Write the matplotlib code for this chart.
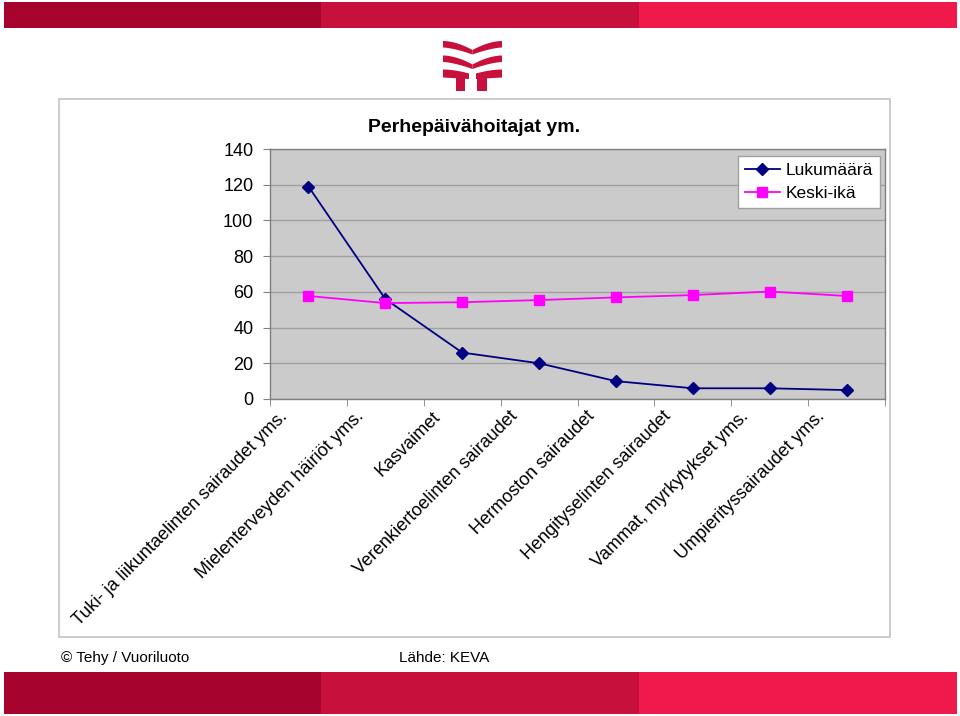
import numpy as np
import matplotlib
matplotlib.use("Agg")
import matplotlib.pyplot as plt
from matplotlib.patches import Rectangle, Polygon
from matplotlib.transforms import Affine2D, ScaledTranslation

plt.rcParams['font.family'] = ['Liberation Sans', 'DejaVu Sans']

# ---- data ----
categories = [
    "Tuki- ja liikuntaelinten sairaudet yms.",
    "Mielenterveyden häiriöt yms.",
    "Kasvaimet",
    "Verenkiertoelinten sairaudet",
    "Hermoston sairaudet",
    "Hengityselinten sairaudet",
    "Vammat, myrkytykset yms.",
    "Umpierityssairaudet yms.",
]
lukumaara = [119, 56, 26, 20, 10, 6, 6, 5]
keski_ika = [57.7, 53.7, 54.2, 55.4, 56.9, 58.2, 60.2, 57.7]
series_names = ["Lukumäärä", "Keski-ikä"]
yticks = [0, 20, 40, 60, 80, 100, 120, 140]
title = "Perhepäivähoitajat ym."
footer_left = "© Tehy / Vuoriluoto"
footer_mid = "Lähde: KEVA"

W, H = 960, 716
fig = plt.figure(figsize=(W / 100, H / 100), dpi=100)
fig.patch.set_facecolor('white')

# pixel coordinate transform (origin top-left)
px = Affine2D().scale(1 / W, -1 / H).translate(0, 1) + fig.transFigure

# ---- banners ----
banner_cols = ['#A6042F', '#C8103C', '#EF1A4B']
edges = [4, 321, 639, 957]
for (y0, y1) in [(2, 28), (672, 714)]:
    for i, c in enumerate(banner_cols):
        fig.patches.append(Rectangle((edges[i], y0), edges[i + 1] - edges[i], y1 - y0,
                                     transform=px, facecolor=c, edgecolor='none', zorder=-2))

# ---- logo ----
logo_col = '#C8103C'
cx = 472.5
def wing(y0, side, thick=6.5, sag=9.0):
    t = np.linspace(0, 1, 24)
    xo = cx + side * (-29.5 + 29.5 * t)
    top = y0 + sag * t ** 1.8
    bot = y0 + thick + (sag - 2) * t ** 1.5
    xs = np.concatenate([xo, xo[::-1]])
    ys = np.concatenate([top, bot[::-1]])
    return np.column_stack([xs, ys])

for y0 in [41, 55.5]:
    for s in (-1, 1):
        fig.patches.append(Polygon(wing(y0, s), closed=True, transform=px,
                                   facecolor=logo_col, edgecolor='none', zorder=-2))
# bottom row with stems
for s in (-1, 1):
    t = np.linspace(0, 1, 24)
    xo = cx + s * (-29.5 + 26 * t)
    top = 69.5 + 4 * t ** 1.8
    bot = 77.5 + 1.5 * t
    pts = np.column_stack([np.concatenate([xo, xo[::-1]]),
                           np.concatenate([top, bot[::-1]])])
    fig.patches.append(Polygon(pts, closed=True, transform=px,
                               facecolor=logo_col, edgecolor='none', zorder=-2))
    xa, xb = (cx - 17, cx - 7.5) if s < 0 else (cx + 4.5, cx + 14)
    fig.patches.append(Rectangle((xa, 73), xb - xa, 18, transform=px,
                                 facecolor=logo_col, edgecolor='none', zorder=-2))

# ---- chart frame ----
fig.patches.append(Rectangle((59, 99), 890 - 59, 637 - 99, transform=px,
                             facecolor='white', edgecolor='#c4c4c4', lw=1.2, zorder=-1))

# ---- axes ----
ax = fig.add_axes([270 / W, 1 - 399 / H, 615 / W, 250 / H])
ax.set_facecolor('#cbcbcb')
x = np.arange(len(categories))
ax.plot(x, lukumaara, color='#000080', lw=1.3, marker='D', ms=6.5,
        mfc='#000080', mec='#000080', label=series_names[0], zorder=3)
ax.plot(x, keski_ika, color='#FF00FF', lw=1.3, marker='s', ms=6.5,
        mfc='#FF00FF', mec='#FF00FF', label=series_names[1], zorder=3)

ax.set_xlim(-0.5, len(categories) - 0.5)
ax.set_ylim(0, 140)
ax.set_yticks(yticks)
ax.set_yticklabels([str(v) for v in yticks], fontsize=13)
ax.yaxis.grid(True, color='#a0a0a0', lw=1)
ax.set_axisbelow(True)
ax.tick_params(axis='y', direction='out', length=5, pad=7, color='#808080')

ax.set_xticks(x)
ax.set_xticklabels(categories, fontsize=13, rotation=45, ha='right', va='center',
                   rotation_mode='anchor')
ax.set_xticks(np.arange(len(categories) + 1) - 0.5, minor=True)
ax.tick_params(axis='x', which='major', length=0, pad=0)
ax.tick_params(axis='x', which='minor', direction='out', length=5, color='#808080')
off = ScaledTranslation(-24 / 100, -15 / 100, fig.dpi_scale_trans)
for lab in ax.get_xticklabels():
    lab.set_transform(lab.get_transform() + off)

for sp in ax.spines.values():
    sp.set_color('#808080')
    sp.set_linewidth(1)

leg = ax.legend(loc='upper right', bbox_to_anchor=(880 / W, 1 - 156 / H),
                bbox_transform=fig.transFigure, borderaxespad=0, fontsize=12.5,
                fancybox=False, framealpha=1, edgecolor='#a0a0a0',
                handlelength=2.0, handletextpad=0.35, borderpad=0.4, labelspacing=0.45)
leg.get_frame().set_linewidth(1)

fig.text(474 / W, 1 - 128 / H, title, ha='center', va='center',
         fontsize=14, fontweight='bold')

fig.text(61 / W, 1 - 658 / H, footer_left, ha='left', va='center', fontsize=11)
fig.text(399 / W, 1 - 658 / H, footer_mid, ha='left', va='center', fontsize=11)

fig.savefig('out.png', dpi=100)
